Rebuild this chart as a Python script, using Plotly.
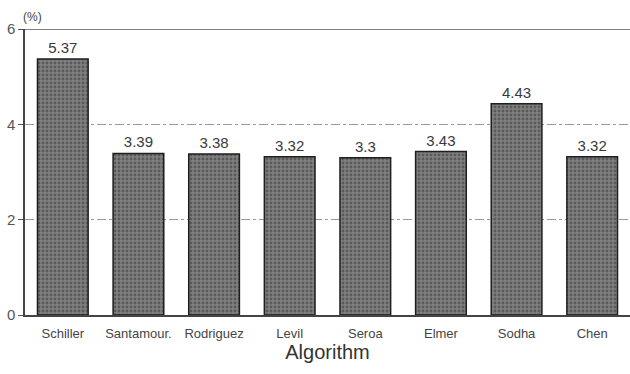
import plotly.graph_objects as go

algorithms = ["Schiller", "Santamour.", "Rodriguez", "Levil", "Seroa", "Elmer", "Sodha", "Chen"]
error_pct = [5.37, 3.39, 3.38, 3.32, 3.3, 3.43, 4.43, 3.32]
y_ticks = [0, 2, 4, 6]

text_color = "#3a3a3a"
font_family = "Liberation Sans, Arial, sans-serif"

fig = go.Figure()

fig.add_trace(go.Bar(
    x=list(range(len(algorithms))),
    y=error_pct,
    width=0.67,
    text=[f"{v:g}" for v in error_pct],
    textposition="outside",
    cliponaxis=False,
    textfont=dict(size=15, color=text_color, family=font_family),
    marker=dict(
        color="#707070",
        line=dict(color="#1e1e1e", width=1.5),
        pattern=dict(shape=".", fgcolor="#333333", bgcolor="#808080", size=4, solidity=0.4),
    ),
))

fig.update_layout(
    width=630, height=374,
    margin=dict(l=25, r=0, t=29, b=59),
    paper_bgcolor="white", plot_bgcolor="white",
    showlegend=False,
    bargap=0.33,
    font=dict(family=font_family, color=text_color),
    xaxis=dict(
        range=[-0.5, 7.5],
        tickmode="array",
        tickvals=list(range(len(algorithms))),
        ticktext=algorithms,
        tickfont=dict(size=13, color="#444"),
        ticklabelstandoff=6,
        showline=True, linecolor="#444", linewidth=1.5,
        ticks="", showgrid=False, zeroline=False,
        title=dict(text="Algorithm", font=dict(size=20, color="#333"), standoff=4),
    ),
    yaxis=dict(
        range=[0, 6],
        tickmode="array",
        tickvals=y_ticks,
        ticktext=[str(t) for t in y_ticks],
        tickfont=dict(size=15, color="#555"),
        showline=True, linecolor="#444", linewidth=1.5,
        ticks="outside", ticklen=5, tickcolor="#555",
        showgrid=True, gridcolor="#9a9a9a", griddash="dashdot", gridwidth=1,
        zeroline=False,
    ),
)

# Top frame line
fig.add_shape(type="line", xref="paper", yref="y", x0=0, x1=1.01, y0=6, y1=6,
              line=dict(color="#555", width=1.5))

# Unit label
fig.add_annotation(text="(%)", xref="paper", yref="paper", x=0.0, y=1.0,
                   xanchor="left", yanchor="bottom", xshift=-4, yshift=3, showarrow=False,
                   font=dict(size=12, color="#444"))

fig.write_html("out.html")
